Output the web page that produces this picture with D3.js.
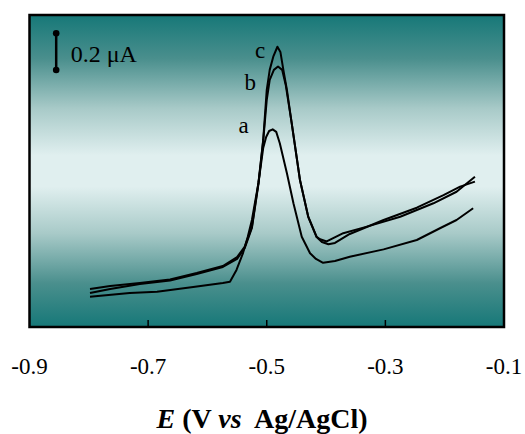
<!DOCTYPE html>
<html><head><meta charset="utf-8">
<script src="https://cdn.jsdelivr.net/npm/d3@7"></script>
<style>html,body{margin:0;padding:0;background:#fff;}svg{display:block;}</style>
</head><body>
<script>
// Data: potential E (V vs Ag/AgCl) and current (μA, arbitrary baseline)
const seriesNames = ["a", "b", "c"];
const curveA = [[-0.798,0.165],[-0.731,0.185],[-0.685,0.192],[-0.624,0.218],[-0.574,0.240],[-0.562,0.247],[-0.551,0.311],[-0.540,0.403],[-0.532,0.492],[-0.525,0.583],[-0.514,0.785],[-0.506,0.975],[-0.501,1.035],[-0.496,1.068],[-0.490,1.077],[-0.484,1.063],[-0.478,1.001],[-0.466,0.838],[-0.455,0.674],[-0.441,0.492],[-0.427,0.402],[-0.417,0.371],[-0.405,0.350],[-0.385,0.360],[-0.360,0.383],[-0.303,0.423],[-0.247,0.474],[-0.208,0.538],[-0.180,0.583],[-0.152,0.647]];
const curveB = [[-0.798,0.185],[-0.764,0.207],[-0.714,0.234],[-0.663,0.253],[-0.618,0.289],[-0.574,0.327],[-0.550,0.371],[-0.537,0.431],[-0.525,0.540],[-0.514,0.779],[-0.506,1.014],[-0.500,1.237],[-0.495,1.346],[-0.488,1.401],[-0.481,1.419],[-0.474,1.401],[-0.468,1.319],[-0.458,1.112],[-0.444,0.801],[-0.430,0.599],[-0.416,0.490],[-0.407,0.463],[-0.396,0.451],[-0.385,0.458],[-0.360,0.507],[-0.303,0.583],[-0.247,0.650],[-0.202,0.719],[-0.174,0.765],[-0.149,0.792]];
const curveC = [[-0.798,0.207],[-0.764,0.223],[-0.714,0.240],[-0.663,0.259],[-0.618,0.294],[-0.574,0.332],[-0.550,0.381],[-0.537,0.438],[-0.525,0.547],[-0.514,0.785],[-0.506,1.019],[-0.500,1.292],[-0.495,1.401],[-0.489,1.473],[-0.482,1.527],[-0.477,1.499],[-0.472,1.401],[-0.466,1.292],[-0.458,1.112],[-0.444,0.801],[-0.430,0.601],[-0.416,0.492],[-0.410,0.478],[-0.399,0.466],[-0.371,0.511],[-0.331,0.547],[-0.275,0.601],[-0.219,0.674],[-0.180,0.737],[-0.149,0.819]];
const labelPos = [[-0.539,1.056],[-0.528,1.292],[-0.511,1.466]];
const xTicks = [-0.9,-0.7,-0.5,-0.3,-0.1];
const xTickLabels = ["-0.9","-0.7","-0.5","-0.3","-0.1"];
const scaleBar = {x:-0.855, top:1.6, size:0.2, label:"0.2 μA"};

const W = 525, H = 434;
const m = {left:29.5, right:21, top:15, bottom:107};
const svg = d3.select("body").append("svg").attr("width",W).attr("height",H);
const x = d3.scaleLinear().domain([-0.9,-0.1]).range([m.left, W-m.right]);
const y = d3.scaleLinear().domain([0,1.7]).range([H-m.bottom, m.top]);

const defs = svg.append("defs");
const grad = defs.append("linearGradient").attr("id","bg").attr("x1",0).attr("y1",0).attr("x2",0).attr("y2",1);
[[0,"#167878"],[0.14,"#4a8f8d"],[0.3,"#a8cac8"],[0.45,"#e0efef"],[0.55,"#e0efef"],[0.7,"#a8cac8"],[0.86,"#4a8f8d"],[1,"#167878"]]
  .forEach(s=>grad.append("stop").attr("offset",s[0]).attr("stop-color",s[1]));

const serif = "'Times New Roman','Liberation Serif',serif";
svg.append("rect").attr("x",x(-0.9)).attr("y",y(1.7)).attr("width",x(-0.1)-x(-0.9)).attr("height",y(0)-y(1.7))
  .attr("fill","url(#bg)");

// inward ticks
svg.append("g").selectAll("line").data(xTicks.slice(1,-1)).join("line")
  .attr("x1",d=>x(d)).attr("x2",d=>x(d)).attr("y1",y(0)).attr("y2",y(0)-7)
  .attr("stroke","#000").attr("stroke-width",1.5);

svg.append("g").selectAll("text").data(xTicks).join("text")
  .attr("x",d=>x(d)).attr("y",373.5).attr("text-anchor","middle")
  .attr("font-family",serif).attr("font-size",23).text((d,i)=>xTickLabels[i]);

const line = d3.line().x(d=>x(d[0])).y(d=>y(d[1]));
svg.append("g").selectAll("path").data([curveA,curveB,curveC]).join("path")
  .attr("d",line).attr("fill","none").attr("stroke","#000").attr("stroke-width",2).attr("stroke-linejoin","round");

svg.append("g").selectAll("text").data(labelPos).join("text")
  .attr("x",d=>x(d[0])).attr("y",d=>y(d[1])).attr("text-anchor","middle")
  .attr("font-family",serif).attr("font-size",23).text((d,i)=>seriesNames[i]);

// scale bar
svg.append("line").attr("x1",x(scaleBar.x)).attr("x2",x(scaleBar.x))
  .attr("y1",y(scaleBar.top)).attr("y2",y(scaleBar.top-scaleBar.size)).attr("stroke","#000").attr("stroke-width",2.5);
svg.append("g").selectAll("circle").data([scaleBar.top, scaleBar.top-scaleBar.size]).join("circle")
  .attr("cx",x(scaleBar.x)).attr("cy",d=>y(d)).attr("r",3.3).attr("fill","#000");
svg.append("text").attr("x",x(scaleBar.x)+14.5).attr("y",y(scaleBar.top)+29)
  .attr("font-family",serif).attr("font-size",24).text(scaleBar.label);

// frame
svg.append("rect").attr("x",x(-0.9)).attr("y",y(1.7)).attr("width",x(-0.1)-x(-0.9)).attr("height",y(0)-y(1.7))
  .attr("fill","none").attr("stroke","#000").attr("stroke-width",2.5);

// axis title
const t = svg.append("text").attr("x",262).attr("y",428).attr("text-anchor","middle")
  .attr("font-family",serif).attr("font-size",28).attr("font-weight","bold");
t.append("tspan").attr("font-style","italic").text("E");
t.append("tspan").text(" (V ");
t.append("tspan").attr("font-style","italic").text("vs");
t.append("tspan").text("\u00a0 Ag/AgCl)");
</script>
</body></html>
